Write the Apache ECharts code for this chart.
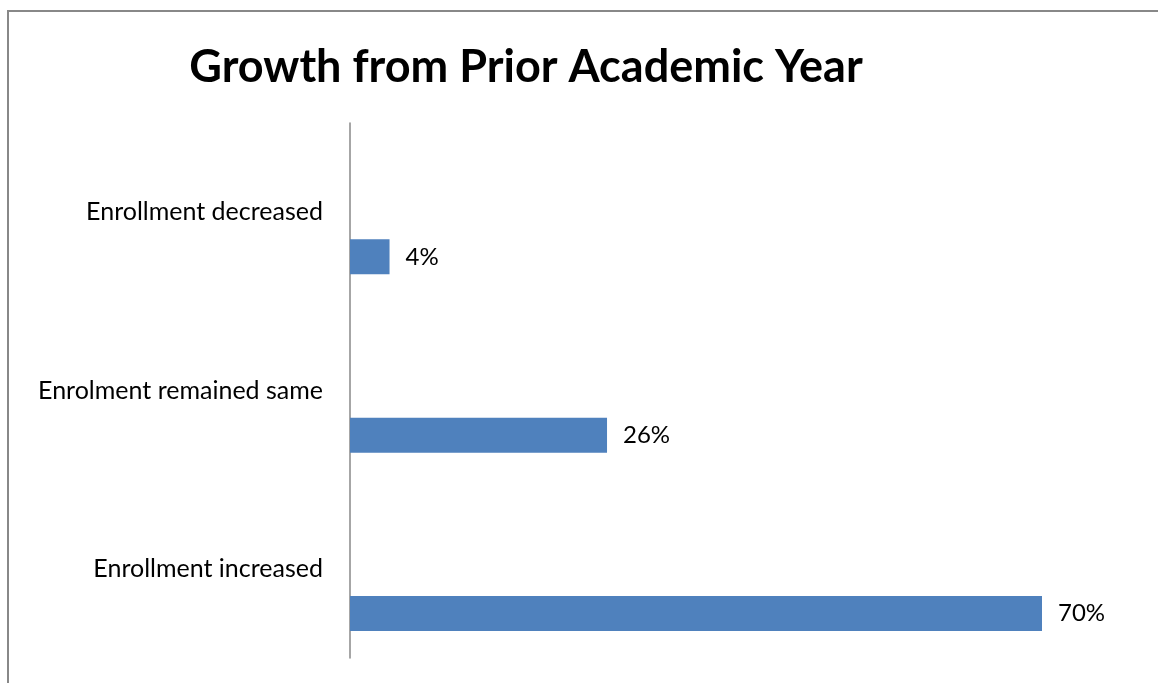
<!DOCTYPE html>
<html>
<head>
<meta charset="utf-8">
<script src="https://cdn.jsdelivr.net/npm/echarts@6/dist/echarts.min.js"></script>
<style>
  html, body { margin: 0; padding: 0; background: #fff; }
  #chart { width: 1158px; height: 683px; }
</style>
</head>
<body>
<div id="chart"></div>
<script>
// Categories listed bottom-to-top (category y axis grows upward)
const categories = ['Enrollment increased', 'Enrolment remained same', 'Enrollment decreased'];
const shareValues = [70, 26, 4];
const blankValues = ['-', '-', '-'];

const chart = echarts.init(document.getElementById('chart'));
const FONT = 'Lato, "Open Sans", sans-serif';

chart.setOption({
  animation: false,
  backgroundColor: '#fff',
  title: {
    text: 'Growth from Prior Academic Year',
    left: 521,
    textAlign: 'center',
    top: 40,
    textStyle: { fontFamily: FONT, fontWeight: 'bold', fontSize: 45, color: '#000' }
  },
  graphic: [{
    type: 'rect',
    shape: { x: 8, y: 11, width: 1200, height: 720 },
    style: { fill: 'none', stroke: '#888', lineWidth: 2 },
    silent: true
  }],
  grid: { left: 350, top: 123, width: 692, height: 535 },
  xAxis: {
    type: 'value', min: 0, max: 70,
    show: false
  },
  yAxis: {
    type: 'category',
    data: categories,
    axisLine: { show: true, lineStyle: { color: '#888', width: 1.5 } },
    axisTick: { show: false },
    splitLine: { show: false },
    axisLabel: { fontFamily: FONT, fontSize: 25, color: '#000', margin: 27 }
  },
  series: [{
    type: 'bar',
    data: blankValues,
    barWidth: 35,
    barGap: '155%'
  }, {
    type: 'bar',
    data: shareValues,
    barWidth: 35,
    barGap: '155%',
    itemStyle: { color: '#4f81bd' },
    label: {
      show: true, position: 'right', distance: 16,
      formatter: p => p.value + '%',
      fontFamily: FONT, fontSize: 24, color: '#000'
    }
  }]
});
</script>
</body>
</html>
